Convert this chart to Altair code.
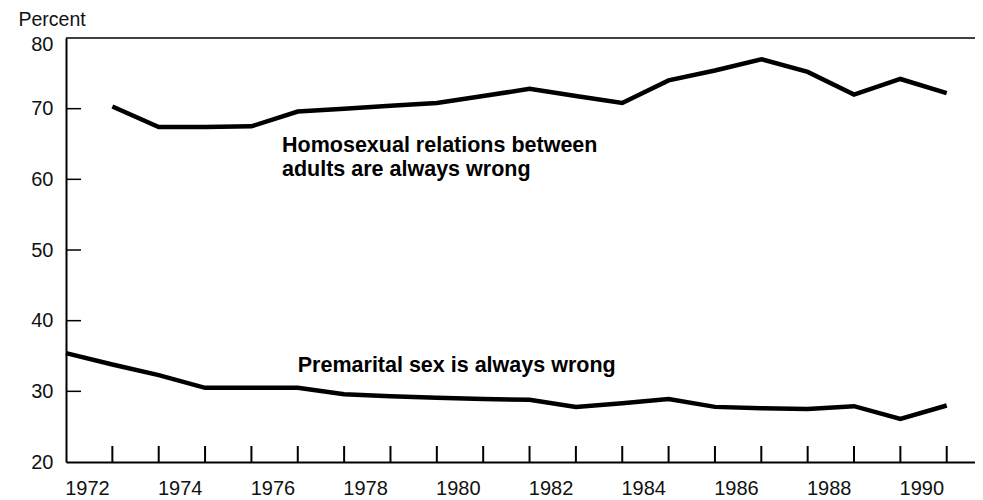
import altair as alt
import pandas as pd

years = list(range(1972, 1992))
homosexual = [None, 70.3, 67.4, 67.4, 67.5, 69.6, 70.0, 70.4, 70.8, 71.8, 72.8,
              71.8, 70.8, 74.0, 75.4, 77.0, 75.2, 72.0, 74.2, 72.2]
premarital = [35.4, 33.8, 32.3, 30.5, 30.5, 30.5, 29.6, 29.3, 29.1, 28.9, 28.8,
              27.8, 28.3, 28.9, 27.8, 27.6, 27.5, 27.9, 26.1, 28.0]
x_label_years = list(range(1972, 1991, 2))
x_tick_years = list(range(1973, 1992))
y_tick_values = [30, 40, 50, 60, 70]
y_label_values = [20, 30, 40, 50, 60, 70, 80]

ann_text = ["Homosexual relations between\nadults are always wrong",
            "Premarital sex is always wrong"]
ann_x = [1976.66, 1977.0]
ann_y = [63.85, 32.7]

rows = []
for y, h, p in zip(years, homosexual, premarital):
    if h is not None:
        rows.append({"year": y, "value": h, "series": "homosexual"})
    rows.append({"year": y, "value": p, "series": "premarital"})
df = pd.DataFrame(rows)

W, H = 909, 424
FONT = "Liberation Sans"

xscale = alt.Scale(domain=[1972, 1991.61], nice=False, zero=False)
yscale = alt.Scale(domain=[20, 80], nice=False, zero=False)

lines = alt.Chart(df).mark_line(color="black", strokeWidth=4.5, strokeJoin="miter").encode(
    x=alt.X("year:Q", scale=xscale,
            axis=alt.Axis(values=x_label_years, title=None, ticks=False, tickSize=0,
                          grid=False, labelPadding=16, labelOffset=21,
                          labelFontSize=20, labelFont=FONT, labelColor="#111",
                          domainColor="black", domainWidth=2, format="d",
                          labelFlush=False)),
    y=alt.Y("value:Q", scale=yscale,
            axis=alt.Axis(values=y_label_values, title="Percent", titleAngle=0,
                          titleAlign="left", titleBaseline="alphabetic",
                          titleX=-48, titleY=-13, titleFont=FONT, titleFontSize=19.5,
                          titleFontWeight="normal", titleColor="#111",
                          ticks=False, tickSize=0, grid=False, labelPadding=13,
                          labelOffset={"condition": {"test": "datum.value == 80", "value": 6}, "value": 0},
                          labelFontSize=20, labelFont=FONT, labelColor="#111",
                          domainColor="black", domainWidth=2, labelFlush=False)),
    detail="series:N",
)

top_rule = alt.Chart(pd.DataFrame({"v": [80]})).mark_rule(color="black", strokeWidth=1.5).encode(
    y=alt.Y("v:Q", scale=yscale)
)

xticks = alt.Chart(pd.DataFrame({"year": x_tick_years})).mark_rule(color="black", strokeWidth=2).encode(
    x=alt.X("year:Q", scale=xscale),
    y=alt.value(H - 16),
    y2=alt.value(H),
)

yticks = alt.Chart(pd.DataFrame({"v": y_tick_values})).mark_rule(color="black", strokeWidth=1.5).encode(
    y=alt.Y("v:Q", scale=yscale),
    x=alt.value(0),
    x2=alt.value(15),
)

ann = alt.Chart(pd.DataFrame({"t": ann_text, "x": ann_x, "y": ann_y})).mark_text(
    align="left", baseline="alphabetic", font=FONT, fontSize=21.5, fontWeight="bold",
    lineBreak="\n", lineHeight=24, color="black"
).encode(
    x=alt.X("x:Q", scale=xscale),
    y=alt.Y("y:Q", scale=yscale),
    text="t:N",
)

chart = alt.layer(top_rule, xticks, yticks, lines, ann).properties(
    width=W, height=H,
    autosize=alt.AutoSizeParams(type="none"),
    padding={"left": 58, "top": 30, "right": 0, "bottom": 38},
    background="white",
).configure_view(stroke=None)

chart.save("out.html", embed_options={"renderer": "svg", "actions": False})
